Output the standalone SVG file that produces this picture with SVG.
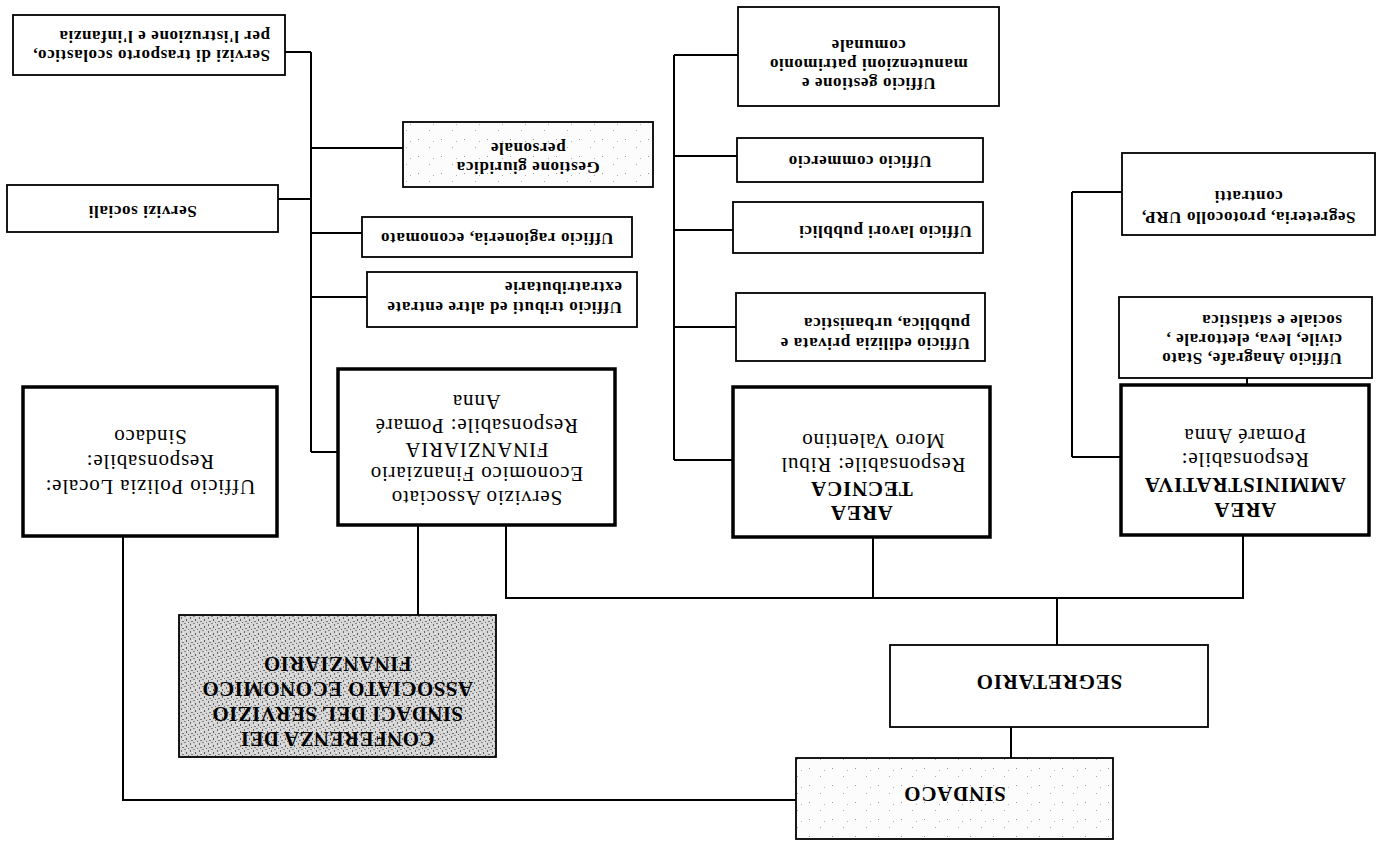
<svg xmlns="http://www.w3.org/2000/svg" width="1385" height="841" viewBox="0 0 1385 841">
<defs>
<pattern id="grain" width="9" height="7" patternUnits="userSpaceOnUse">
<rect width="9" height="7" fill="#d6d6d6"/>
<rect x="1" y="1" width="1" height="2" fill="#6a6a6a"/>
<rect x="4" y="0" width="2" height="1" fill="#8a8a8a"/>
<rect x="6" y="3" width="1" height="2" fill="#5a5a5a"/>
<rect x="2" y="5" width="2" height="1" fill="#7a7a7a"/>
<rect x="8" y="6" width="1" height="1" fill="#666"/>
<rect x="3" y="3" width="1" height="1" fill="#f5f5f5"/>
<rect x="7" y="0" width="1" height="1" fill="#f0f0f0"/>
</pattern>
<pattern id="speck" width="23" height="17" patternUnits="userSpaceOnUse">
<rect width="23" height="17" fill="#fcfcfc"/>
<rect x="4" y="3" width="1" height="1" fill="#999"/>
<rect x="15" y="11" width="1" height="1" fill="#aaa"/>
<rect x="19" y="5" width="1" height="1" fill="#b0b0b0"/>
</pattern>
</defs>
<style>
.box{fill:#fff;stroke:#000;stroke-width:1.8}
.thick{fill:#fff;stroke:#000;stroke-width:3.5}
.sp{fill:url(#speck)}
.gr{fill:url(#grain)}
.t{font-family:"Liberation Serif",serif;font-weight:bold;font-size:17px;letter-spacing:0.6px;fill:#000}
.r{font-family:"Liberation Serif",serif;font-size:21px;letter-spacing:0.8px;fill:#000}
.b{font-weight:bold}
.c{text-anchor:middle}
.conn line,.conn polyline{stroke:#000;stroke-width:2;fill:none}
</style>

<g class="conn" id="connectors">
<line x1="285" y1="52" x2="311" y2="52"/>
<line x1="311" y1="52" x2="311" y2="452"/>
<line x1="311" y1="148" x2="403" y2="148"/>
<line x1="278" y1="199" x2="311" y2="199"/>
<line x1="311" y1="233" x2="362" y2="233"/>
<line x1="311" y1="297" x2="367" y2="297"/>
<line x1="311" y1="452" x2="338" y2="452"/>
<line x1="674" y1="55" x2="674" y2="460"/>
<line x1="674" y1="55" x2="738" y2="55"/>
<line x1="674" y1="156" x2="737" y2="156"/>
<line x1="674" y1="230" x2="733" y2="230"/>
<line x1="674" y1="327" x2="736" y2="327"/>
<line x1="674" y1="460" x2="733" y2="460"/>
<line x1="1072" y1="192" x2="1072" y2="457"/>
<line x1="1072" y1="192" x2="1122" y2="192"/>
<line x1="1072" y1="457" x2="1121" y2="457"/>
<line x1="1247" y1="378" x2="1247" y2="385"/>
<polyline points="1243,535 1243,598 506,598 506,525"/>
<line x1="873" y1="537" x2="873" y2="598"/>
<line x1="1057" y1="598" x2="1057" y2="645"/>
<line x1="1011" y1="727" x2="1011" y2="758"/>
<line x1="418" y1="525" x2="418" y2="615"/>
<polyline points="123,536 123,800 796,800"/>
</g>

<g id="trasporto">
<rect class="box" x="13" y="15" width="272" height="60"/>
<text class="t" transform="rotate(180 149 45)"><tspan x="28" y="40">Servizi di trasporto scolastico,</tspan><tspan x="28" y="59">per l'istruzione e l'infanzia</tspan></text>
</g>
<g id="servizi-sociali">
<rect class="box" x="7" y="185" width="271" height="47"/>
<text class="t c" transform="rotate(180 142.5 208.5)" x="142.5" y="211">Servizi sociali</text>
</g>
<g id="gestione-giuridica">
<rect class="box sp" x="403" y="122" width="250" height="65"/>
<text class="t c" transform="rotate(180 528 154.5)"><tspan x="528" y="147">Gestione giuridica</tspan><tspan x="528" y="166">personale</tspan></text>
</g>
<g id="ragioneria">
<rect class="box" x="362" y="217" width="270" height="40"/>
<text class="t c" transform="rotate(180 497 237)" x="497" y="241">Ufficio ragioneria, economato</text>
</g>
<g id="tributi">
<rect class="box" x="367" y="272" width="270" height="55"/>
<text class="t" transform="rotate(180 502 299.5)"><tspan x="382" y="297">Ufficio tributi ed altre entrate</tspan><tspan x="382" y="317">extratributarie</tspan></text>
</g>
<g id="servizio-associato">
<rect class="thick" x="338" y="369" width="277" height="156"/>
<text class="r c" transform="rotate(180 476.5 447)"><tspan x="476.5" y="403">Servizio Associato</tspan><tspan x="476.5" y="427">Economico Finanziario</tspan><tspan x="476.5" y="451">FINANZIARIA</tspan><tspan x="476.5" y="475">Responsabile: Pomaré</tspan><tspan x="476.5" y="499">Anna</tspan></text>
</g>
<g id="polizia-locale">
<rect class="thick" x="23" y="387" width="254" height="149"/>
<text class="r c" transform="rotate(180 150 461.5)"><tspan x="150" y="443">Ufficio Polizia Locale:</tspan><tspan x="150" y="468">Responsabile:</tspan><tspan x="150" y="493">Sindaco</tspan></text>
</g>
<g id="conferenza">
<rect class="box gr" x="179" y="615" width="317" height="142"/>
<text class="r b c" style="letter-spacing:0.4px" transform="rotate(180 337.5 686)"><tspan x="337.5" y="640">CONFERENZA DEI</tspan><tspan x="337.5" y="665">SINDACI DEL SERVIZIO</tspan><tspan x="337.5" y="690">ASSOCIATO ECONOMICO</tspan><tspan x="337.5" y="715">FINANZIARIO</tspan></text>
</g>
<g id="manutenzioni">
<rect class="box" x="738" y="7" width="261" height="99"/>
<text class="t c" transform="rotate(180 868.5 56.5)"><tspan x="868.5" y="35">Ufficio gestione e</tspan><tspan x="868.5" y="54">manutenzioni patrimonio</tspan><tspan x="868.5" y="73">comunale</tspan></text>
</g>
<g id="commercio">
<rect class="box" x="737" y="138" width="246" height="44"/>
<text class="t c" transform="rotate(180 860 160)" x="860" y="164">Ufficio commercio</text>
</g>
<g id="lavori-pubblici">
<rect class="box" x="733" y="202" width="250" height="51"/>
<text class="t" transform="rotate(180 858 227.5)" x="744" y="229">Ufficio lavori pubblici</text>
</g>
<g id="edilizia">
<rect class="box" x="736" y="293" width="249" height="68"/>
<text class="t" transform="rotate(180 860.5 327)"><tspan x="751" y="316">Ufficio edilizia privata e</tspan><tspan x="751" y="336">pubblica, urbanistica</tspan></text>
</g>
<g id="area-tecnica">
<rect class="thick" x="733" y="387" width="257" height="150"/>
<text class="r c" transform="rotate(180 861.5 462)"><tspan class="b" x="861.5" y="418">AREA</tspan><tspan class="b" x="861.5" y="442">TECNICA</tspan><tspan x="850" y="466">Responsabile: Ribul</tspan><tspan x="850" y="490">Moro Valentino</tspan></text>
</g>
<g id="area-amministrativa">
<rect class="thick" x="1121" y="385" width="248" height="150"/>
<text class="r c" transform="rotate(180 1245 460)"><tspan class="b" x="1245" y="417">AREA</tspan><tspan class="b" x="1245" y="442">AMMINISTRATIVA</tspan><tspan x="1245" y="467">Responsabile:</tspan><tspan x="1245" y="491">Pomaré Anna</tspan></text>
</g>
<g id="anagrafe">
<rect class="box" x="1119" y="297" width="253" height="81"/>
<text class="t" transform="rotate(180 1245.5 337.5)"><tspan x="1149" y="322">Ufficio Anagrafe, Stato</tspan><tspan x="1149" y="341">civile, leva, elettorale ,</tspan><tspan x="1149" y="360">sociale e statistica</tspan></text>
</g>
<g id="segreteria">
<rect class="box" x="1122" y="153" width="253" height="82"/>
<text class="t c" transform="rotate(180 1248.5 194)"><tspan x="1248.5" y="176">Segreteria, protocollo URP,</tspan><tspan x="1248.5" y="197">contratti</tspan></text>
</g>
<g id="segretario">
<rect class="box" x="890" y="645" width="318" height="82"/>
<text class="r b c" transform="rotate(180 1049 686)" x="1049" y="697">SEGRETARIO</text>
</g>
<g id="sindaco">
<rect class="box sp" x="796" y="758" width="317" height="81"/>
<text class="r b c" transform="rotate(180 954.5 798.5)" x="954.5" y="810">SINDACO</text>
</g>
</svg>
